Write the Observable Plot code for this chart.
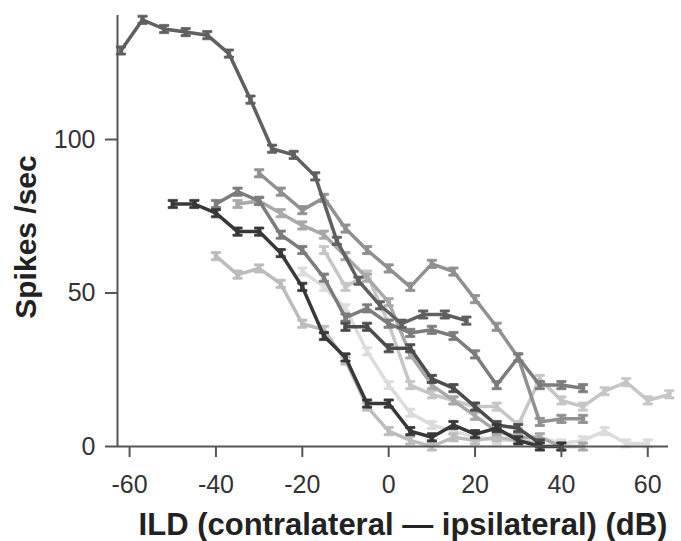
<!DOCTYPE html>
<html>
<head>
<meta charset="utf-8">
<script src="https://cdn.jsdelivr.net/npm/d3@7"></script>
<script src="https://cdn.jsdelivr.net/npm/@observablehq/plot@0.6"></script>
<style>
  html, body { margin: 0; padding: 0; background: #fff; }
  #chart { width: 681px; height: 541px; }
</style>
</head>
<body>
<div id="chart"></div>
<script>
// ---- data ----
const xTicks = [-60, -40, -20, 0, 20, 40, 60];
const yTicks = [0, 50, 100];
const xTitle = "ILD (contralateral \u2014 ipsilateral) (dB)";
const yTitle = "Spikes /sec";

const ildJ = [-20, -15, -10, -5, 0, 5, 10, 15, 20, 25, 30, 35, 40, 45, 50, 55, 60];
const rateJ = [57, 52, 45, 31, 20, 11, 7, 5, 3, 2, 2, 3, 1, 2, 5, 1, 1];

const ildG = [-15, -10, -5, 0, 5, 10, 15, 20, 25, 30, 35, 40, 45, 50, 55, 60, 65];
const rateG = [64, 52, 56, 40, 20, 17, 15, 13, 13, 7, 22, 15, 13, 18, 21, 15, 17];

const ildE = [-40, -35, -30, -25, -20, -15, -10, -5, 0, 5, 10, 15, 20, 25, 30, 35];
const rateE = [62, 56, 58, 53, 40, 38, 28, 13, 5, 2, 0, 3, 2, 3, 2, 1];

const ildC = [-35, -30, -25, -20, -15, -10, -5, 0, 5, 10, 15, 20, 25, 30, 35, 40, 45];
const rateC = [79, 80, 76, 72, 69, 62, 55, 47, 30, 20, 15, 10, 5, 3, 3, 0, 0];

const ildF = [-30, -25, -20, -15, -10, -5, 0, 5, 10, 15, 20, 25, 30, 35, 40, 45];
const rateF = [89, 83, 77, 81, 71, 64, 58, 52, 59.5, 57, 48, 39, 29, 8, 9, 9];

const ildB = [-40, -35, -30, -25, -20, -15, -10, -5, 0, 5, 10, 15, 20, 25, 30, 35, 40, 45];
const rateB = [79, 83, 80, 69, 64, 55, 42, 45, 40, 37, 38, 36, 30, 20, 29, 20, 20, 19];

const ildK = [-10, -5, 0, 5, 10, 15, 20, 25, 30, 35];
const rateK = [39, 39, 32, 32, 22, 19, 13, 7, 6, 1];

const ildA = [-62, -57, -52, -47, -42, -37, -32, -27, -22, -17, -12, -7, -2, 3, 8, 13, 18];
const rateA = [129, 139, 136, 135, 134, 128, 113, 97, 95, 88, 67, 54, 46, 40, 43, 43, 41];

const ildD = [-50, -45, -40, -35, -30, -25, -20, -15, -10, -5, 0, 5, 10, 15, 20, 25, 30, 35, 40];
const rateD = [79, 79, 76, 70, 70, 63, 52, 36, 29, 14, 14, 5, 3, 7, 4, 6, 2, 0, 0];

const seriesNames = ["J", "G", "E", "C", "F", "B", "K", "A", "D"];
const seriesColors = ["#dcdcdc", "#c6c6c6", "#bcbcbc", "#a8a8a8", "#909090", "#7c7c7c", "#4c4c4c", "#606060", "#383838"];
const seriesX = [ildJ, ildG, ildE, ildC, ildF, ildB, ildK, ildA, ildD];
const seriesY = [rateJ, rateG, rateE, rateC, rateF, rateB, rateK, rateA, rateD];

// ---- build ----
// I-beam (error-bar) marker
const ibeam = {
  draw(ctx, size) {
    const r = Math.sqrt(size) / 2;
    const c = r * 0.45, w = r * 0.4;
    ctx.moveTo(-r, -r);
    ctx.lineTo(r, -r);
    ctx.lineTo(r, -r + c);
    ctx.lineTo(w, -r + c);
    ctx.lineTo(w, r - c);
    ctx.lineTo(r, r - c);
    ctx.lineTo(r, r);
    ctx.lineTo(-r, r);
    ctx.lineTo(-r, r - c);
    ctx.lineTo(-w, r - c);
    ctx.lineTo(-w, -r + c);
    ctx.lineTo(-r, -r + c);
    ctx.closePath();
  }
};

const xDomain = [-62.8, 64.8];
const yDomain = [0, 140.4];

const seriesMarks = seriesNames.flatMap((name, i) => {
  const rows = seriesX[i].map((x, j) => ({x, y: seriesY[i][j]}));
  return [
    Plot.line(rows, {x: "x", y: "y", stroke: seriesColors[i], strokeWidth: 3.5, strokeLinejoin: "round"}),
    Plot.dot(rows, {x: "x", y: "y", symbol: ibeam, r: 5.2, fill: seriesColors[i], stroke: seriesColors[i], strokeWidth: 0.8})
  ];
});

const chart = Plot.plot({
  width: 681,
  height: 541,
  marginLeft: 117,
  marginRight: 13,
  marginTop: 15,
  marginBottom: 95,
  style: {fontFamily: "'Liberation Sans', Arial, Helvetica, sans-serif", background: "#fff", overflow: "visible"},
  x: {domain: xDomain},
  y: {domain: yDomain},
  marks: [
    ...seriesMarks,
    Plot.ruleY([0], {stroke: "#555", strokeWidth: 2}),
    Plot.ruleX([xDomain[0]], {stroke: "#555", strokeWidth: 2}),
    Plot.axisX({ticks: xTicks, tickSize: 11, tickPadding: 18, fontSize: 25, tickFormat: d => String(d), label: null, color: "#333", stroke: "#555", strokeWidth: 2}),
    Plot.axisY({ticks: yTicks, tickSize: 12, tickPadding: 10, fontSize: 25, tickFormat: d => String(d), label: null, color: "#333", stroke: "#555", strokeWidth: 2}),
    Plot.text([yTitle], {text: d => d, frameAnchor: "left", textAnchor: "middle", lineAnchor: "middle", dx: -91, dy: 6, rotate: -90, fontSize: 30, fontWeight: "bold", fill: "#222"}),
    Plot.text([xTitle], {text: d => d, frameAnchor: "bottom", textAnchor: "middle", lineAnchor: "middle", dx: 10, dy: 79, fontSize: 31, fontWeight: "bold", fill: "#222"})
  ]
});
document.getElementById("chart").append(chart);
</script>
</body>
</html>
